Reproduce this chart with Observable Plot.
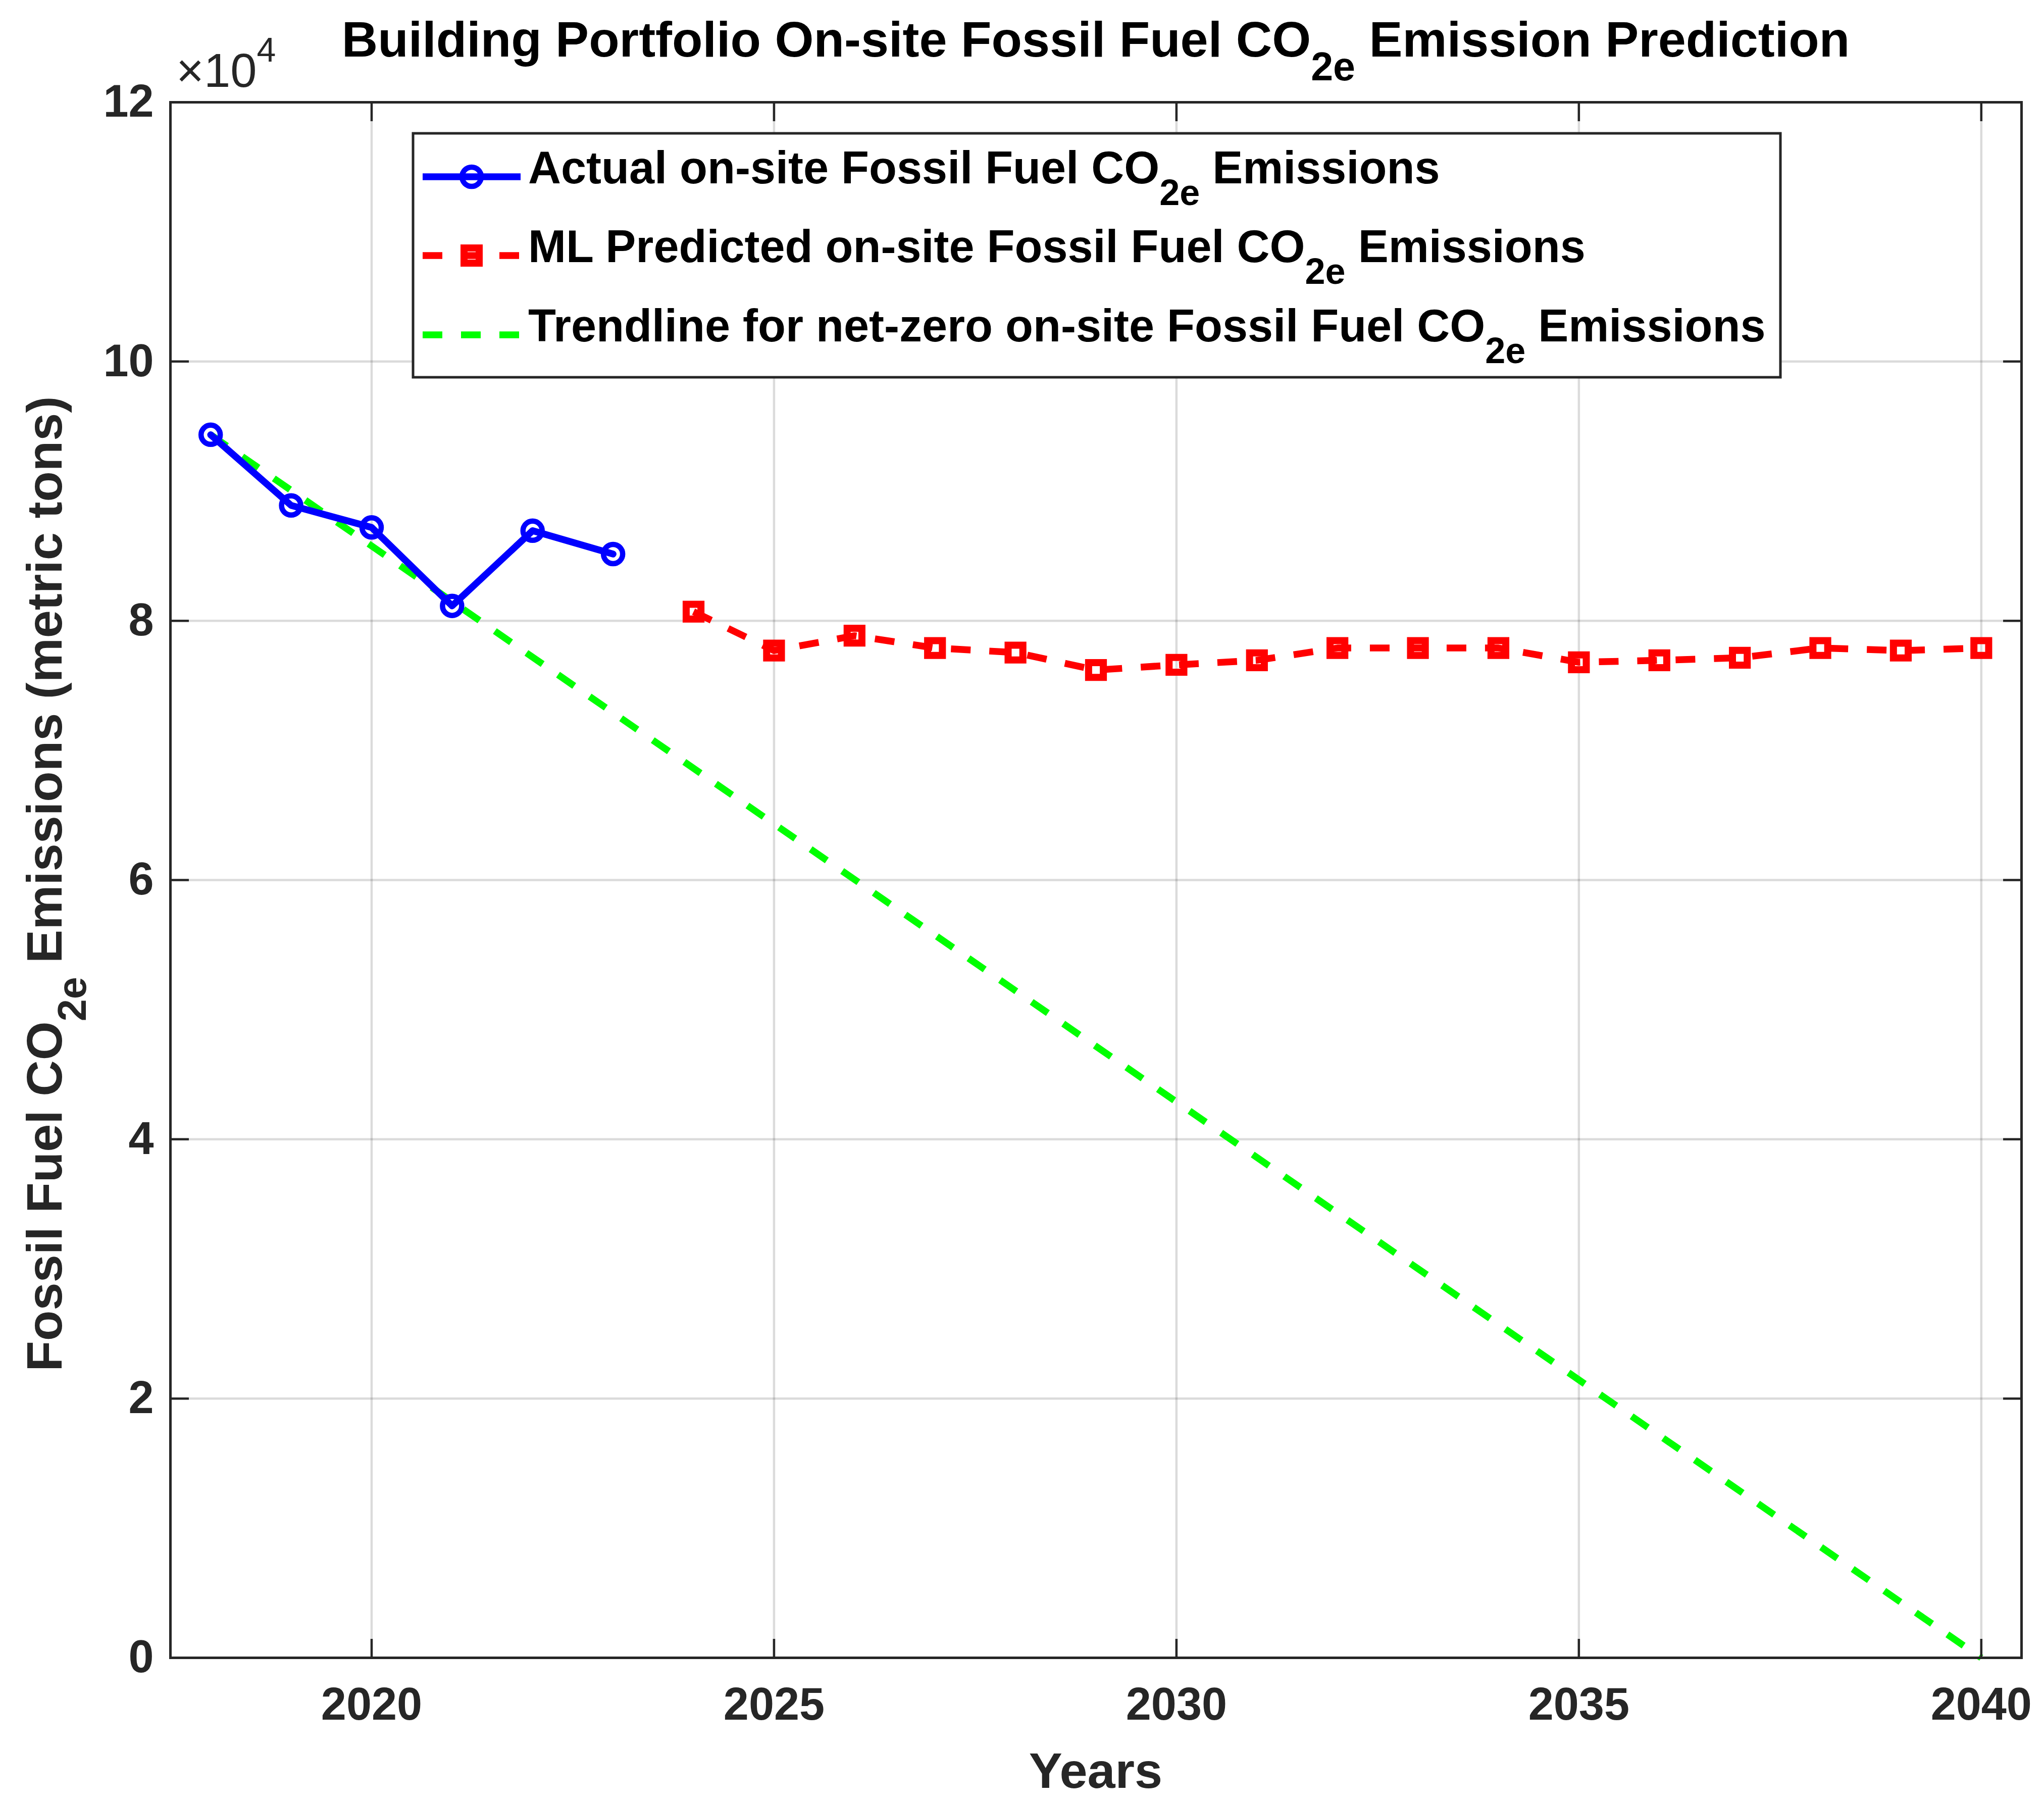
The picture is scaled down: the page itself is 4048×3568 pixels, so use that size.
<!DOCTYPE html>
<html>
<head>
<meta charset="utf-8">
<script src="https://cdn.jsdelivr.net/npm/d3@7"></script>
<script src="https://cdn.jsdelivr.net/npm/@observablehq/plot@0.6"></script>
<style>
  html, body { margin: 0; padding: 0; background: #fff; }
  svg { display: block; }
</style>
</head>
<body>
<div id="chart"></div>
<script>
// ---------- data ----------
const actualYears = [2018, 2019, 2020, 2021, 2022, 2023];
const actualValues = [94350, 88900, 87200, 81150, 86950, 85150];

const predictedYears = [2024, 2025, 2026, 2027, 2028, 2029, 2030, 2031, 2032,
                        2033, 2034, 2035, 2036, 2037, 2038, 2039, 2040];
const predictedValues = [80700, 77700, 78850, 77900, 77550, 76200, 76600, 76950, 77900,
                         77900, 77900, 76800, 76950, 77150, 77900, 77700, 77900];

const trendYears = [2018, 2040];
const trendValues = [94350, 0];

const xTicks = [2020, 2025, 2030, 2035, 2040];
const xTickLabels = ["2020", "2025", "2030", "2035", "2040"];
const yTicks = [0, 20000, 40000, 60000, 80000, 100000, 120000];
const yTickLabels = ["0", "2", "4", "6", "8", "10", "12"];

const legendLabels = [
  ["Actual on-site Fossil Fuel CO", "2e", " Emissions"],
  ["ML Predicted on-site Fossil Fuel CO", "2e", " Emissions"],
  ["Trendline for net-zero on-site Fossil Fuel CO", "2e", " Emissions"]
];
const titleParts = ["Building Portfolio On-site Fossil Fuel CO", "2e", " Emission Prediction"];
const yLabelParts = ["Fossil Fuel CO", "2e", " Emissions (metric tons)"];
const xLabelText = "Years";

// ---------- tables ----------
const actual = actualYears.map((x, i) => ({x, y: actualValues[i]}));
const predicted = predictedYears.map((x, i) => ({x, y: predictedValues[i]}));
const trend = trendYears.map((x, i) => ({x, y: trendValues[i]}));

// ---------- style ----------
const W = 4048, H = 3568;
const FONT = "'Liberation Sans', Arial, Helvetica, sans-serif";
const INK = "#262626";
const BLUE = "#0000ff", RED = "#ff0000", GREEN = "#00ff00";
const LW = 13.5;
const DASH = "39,37";

const gridStyle = {stroke: "#000", strokeOpacity: 0.14, strokeWidth: 4.5};
const tickStyle = {stroke: INK, strokeWidth: 4.5, tickFormat: () => "", label: null};
const textStyle = {fontSize: 90, fontWeight: "bold", fill: INK, tickSize: 0, label: null};

const chart = Plot.plot({
  width: W,
  height: H,
  marginLeft: 337,
  marginRight: 45,
  marginTop: 202,
  marginBottom: 286,
  style: {fontFamily: FONT, background: "#fff", overflow: "visible", fontSize: "90px"},
  x: {domain: [2017.5, 2040.5]},
  y: {domain: [0, 120000]},
  marks: [
    Plot.gridX(xTicks, gridStyle),
    Plot.gridY(yTicks, gridStyle),
    Plot.line(trend, {x: "x", y: "y", stroke: GREEN, strokeWidth: LW, strokeDasharray: DASH, strokeLinecap: "butt"}),
    Plot.line(predicted, {x: "x", y: "y", stroke: RED, strokeWidth: LW, strokeDasharray: DASH, strokeLinecap: "butt"}),
    Plot.dot(predicted, {x: "x", y: "y", symbol: "square", r: 16.5, stroke: RED, strokeWidth: 14, fill: "none"}),
    Plot.line(actual, {x: "x", y: "y", stroke: BLUE, strokeWidth: LW}),
    Plot.dot(actual, {x: "x", y: "y", r: 19, stroke: BLUE, strokeWidth: 10.5, fill: "none"}),
    Plot.frame({stroke: INK, strokeWidth: 5}),
    Plot.axisX({ticks: xTicks, anchor: "bottom", tickSize: -37, ...tickStyle}),
    Plot.axisX({ticks: xTicks, anchor: "top", tickSize: -37, ...tickStyle}),
    Plot.axisY({ticks: yTicks, anchor: "left", tickSize: -37, ...tickStyle}),
    Plot.axisY({ticks: yTicks, anchor: "right", tickSize: -37, ...tickStyle}),
    Plot.axisX({ticks: xTicks, anchor: "bottom", tickPadding: 59,
                tickFormat: (d) => xTickLabels[xTicks.indexOf(d)], ...textStyle}),
    Plot.axisY({ticks: yTicks, anchor: "left", tickPadding: 33,
                tickFormat: (d) => yTickLabels[yTicks.indexOf(d)], ...textStyle})
  ]
});

document.getElementById("chart").appendChild(chart);

// ---------- rich text (sub/superscripts) ----------
const svg = d3.select(chart);
const xs = chart.scale("x"), ys = chart.scale("y");
const plotLeft = xs.apply(2017.5), plotRight = xs.apply(2040.5);
const plotTop = ys.apply(120000), plotBottom = ys.apply(0);
const cx = (plotLeft + plotRight) / 2, cy = (plotTop + plotBottom) / 2;

function richText(g, parts, subSize, shift) {
  g.append("tspan").text(parts[0]);
  g.append("tspan").attr("font-size", subSize).attr("dy", shift).text(parts[1]);
  g.append("tspan").attr("dy", -shift).text(parts[2]);
  return g;
}

// title
richText(svg.append("text")
  .attr("x", cx).attr("y", 112)
  .attr("text-anchor", "middle")
  .attr("font-family", FONT).attr("font-weight", "bold")
  .attr("font-size", 99).attr("fill", "#000"), titleParts, 79, 47);

// y label
richText(svg.append("text")
  .attr("transform", `translate(122,${cy + 8}) rotate(-90)`)
  .attr("text-anchor", "middle")
  .attr("font-family", FONT).attr("font-weight", "bold")
  .attr("font-size", 99).attr("fill", INK), yLabelParts, 79, 48);

// x label
svg.append("text")
  .attr("x", cx).attr("y", 3540)
  .attr("text-anchor", "middle")
  .attr("font-family", FONT).attr("font-weight", "bold")
  .attr("font-size", 99).attr("fill", INK)
  .text(xLabelText);

// exponent
const ex = svg.append("text")
  .attr("x", plotLeft + 12).attr("y", 172)
  .attr("text-anchor", "start")
  .attr("font-family", FONT).attr("font-size", 94).attr("fill", INK);
ex.append("tspan").text("\u00d710");
ex.append("tspan").attr("font-size", 68).attr("dy", -50).text("4");

// legend
const lg = svg.append("g");
lg.append("rect")
  .attr("x", 818).attr("y", 264).attr("width", 2708).attr("height", 483)
  .attr("fill", "#fff").attr("stroke", INK).attr("stroke-width", 5);
const rowBase = [363, 519, 676];
const rowStyles = [
  {stroke: BLUE, dash: null, marker: "circle"},
  {stroke: RED, dash: DASH, marker: "square"},
  {stroke: GREEN, dash: DASH, marker: null}
];
rowStyles.forEach((s, i) => {
  const yl = rowBase[i] - 13;
  const ln = lg.append("line")
    .attr("x1", 837).attr("x2", 1031).attr("y1", yl).attr("y2", yl)
    .attr("stroke", s.stroke).attr("stroke-width", LW);
  if (s.dash) ln.attr("stroke-dasharray", s.dash);
  if (s.marker === "circle") {
    lg.append("circle").attr("cx", 934).attr("cy", yl).attr("r", 19)
      .attr("fill", "none").attr("stroke", s.stroke).attr("stroke-width", 10.5);
  } else if (s.marker === "square") {
    lg.append("rect").attr("x", 934 - 15).attr("y", yl - 15).attr("width", 30).attr("height", 30)
      .attr("fill", "none").attr("stroke", s.stroke).attr("stroke-width", 14);
  }
  richText(lg.append("text")
    .attr("x", 1046).attr("y", rowBase[i])
    .attr("text-anchor", "start")
    .attr("font-family", FONT).attr("font-weight", "bold")
    .attr("font-size", 90).attr("fill", "#000"), legendLabels[i], 72, 43);
});
</script>
</body>
</html>
